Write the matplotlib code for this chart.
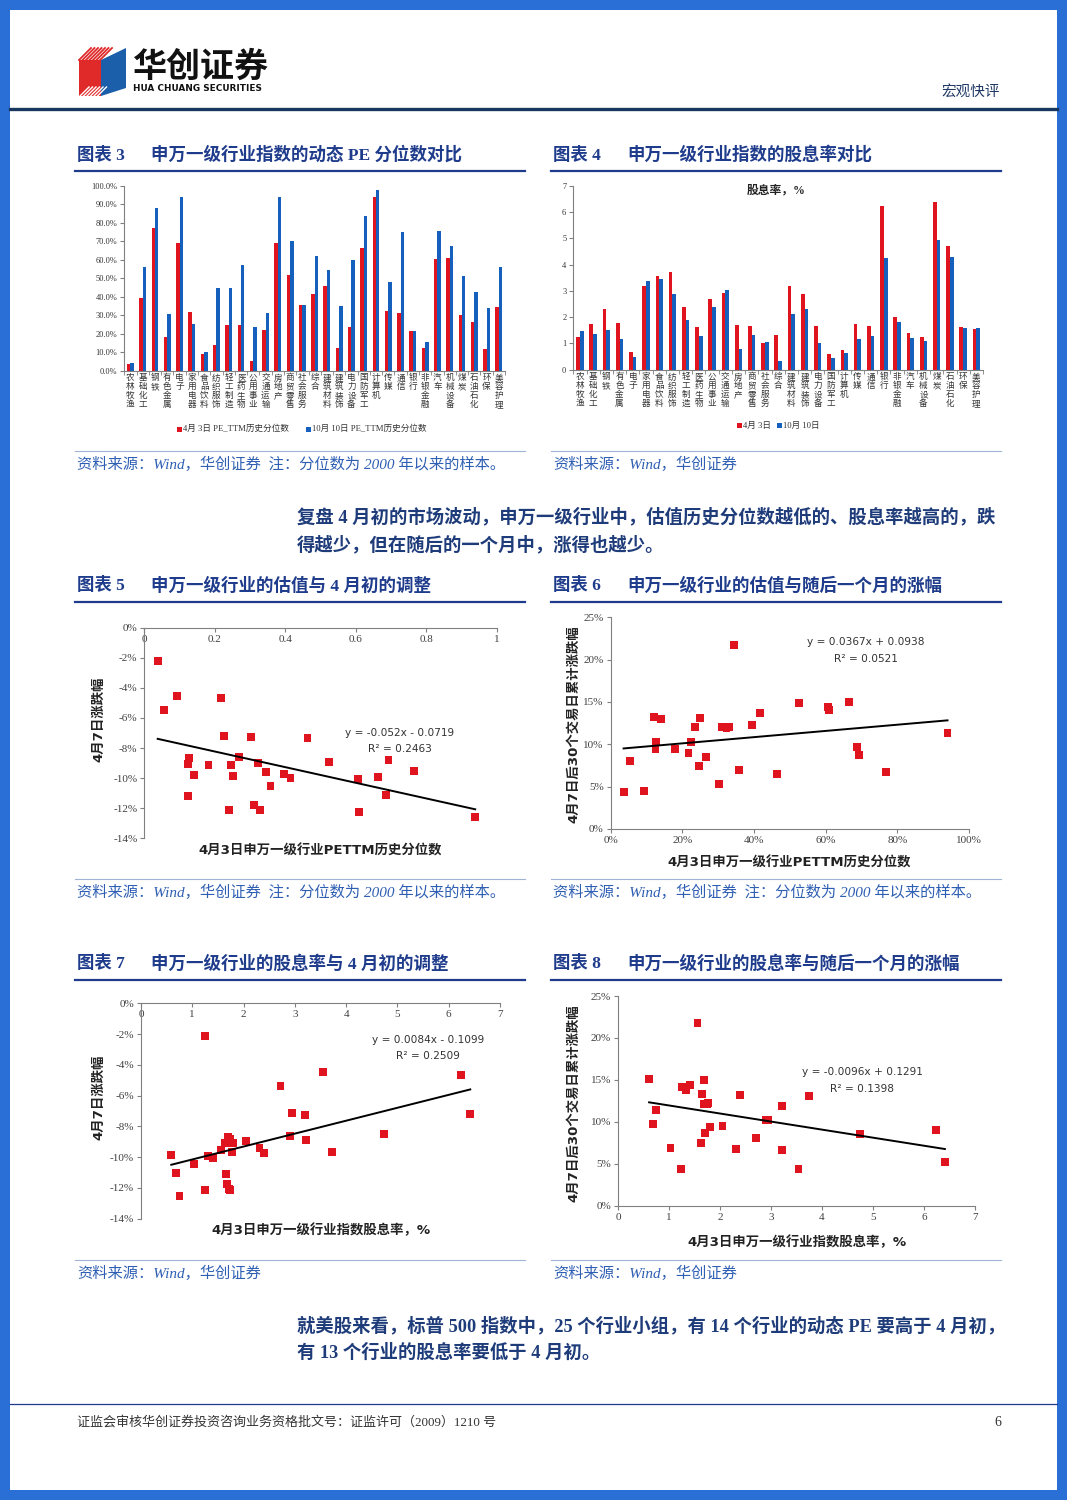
import numpy as np
import matplotlib
matplotlib.use('Agg')
import matplotlib.pyplot as plt
from matplotlib.patches import Rectangle, Polygon
from matplotlib.ticker import FuncFormatter, MultipleLocator

plt.rcParams['axes.unicode_minus'] = False
plt.rcParams['font.family'] = ['Liberation Serif', 'Noto Sans CJK SC']

W, H = 1067, 1500

# ---------------- data ----------------
industries = ['农林牧渔', '基础化工', '钢铁', '有色金属', '电子', '家用电器', '食品饮料', '纺织服饰',
              '轻工制造', '医药生物', '公用事业', '交通运输', '房地产', '商贸零售', '社会服务', '综合',
              '建筑材料', '建筑装饰', '电力设备', '国防军工', '计算机', '传媒', '通信', '银行',
              '非银金融', '汽车', '机械设备', '煤炭', '石油石化', '环保', '美容护理']
pe_apr3 = [3.5, 39.5, 77, 18, 69, 32, 9, 14, 25, 24.5, 5.5, 22, 69, 52, 35.5, 41.5,
           46, 12.5, 23.5, 66.5, 94, 32.5, 31, 21.5, 12.5, 60.5, 61, 30, 26.5, 12, 34.5]
pe_oct10 = [4, 56, 88, 30.5, 94, 25.5, 10, 45, 45, 57, 23.5, 31, 94, 70, 35.5, 62,
            54.5, 35, 60, 84, 98, 48, 75, 21.5, 15.5, 75.5, 67.5, 51.5, 42.5, 34, 56]
dy_apr3 = [1.25, 1.75, 2.3, 1.77, 0.68, 3.2, 3.55, 3.73, 2.4, 1.63, 2.7, 2.93, 1.7, 1.68, 1.03, 1.32,
           3.18, 2.88, 1.68, 0.6, 0.75, 1.75, 1.66, 6.22, 2.02, 1.4, 1.25, 6.38, 4.72, 1.63, 1.55]
dy_oct10 = [1.48, 1.35, 1.5, 1.18, 0.47, 3.37, 3.45, 2.88, 1.88, 1.3, 2.38, 3.05, 0.8, 1.32, 1.07, 0.32,
            2.1, 2.32, 1.0, 0.45, 0.63, 1.18, 1.3, 4.25, 1.8, 1.2, 1.08, 4.92, 4.27, 1.58, 1.6]

# chart 5: PE percentile (Apr 3) vs Apr 7 change (%)
s5_x = [0.038, 0.056, 0.094, 0.218, 0.225, 0.303, 0.463, 0.128, 0.125, 0.142, 0.123, 0.182, 0.246, 0.251,
        0.268, 0.240, 0.311, 0.328, 0.323, 0.346, 0.358, 0.397, 0.415, 0.525, 0.607, 0.609, 0.664, 0.687,
        0.693, 0.766, 0.939]
s5_y = [-2.2, -5.45, -4.52, -4.7, -7.2, -7.27, -7.31, -8.66, -9.04, -9.77, -11.17, -9.15, -9.15, -9.86,
        -8.6, -12.14, -11.76, -12.14, -8.99, -9.59, -10.52, -9.75, -9.99, -8.95, -10.08, -12.25, -9.92,
        -11.1, -8.8, -9.55, -12.58]
trend5 = (-0.052, -0.0719, '0.2463')

# chart 6: PE percentile vs 30-day cumulative change after Apr 7 (%)
s6_x = [0.036, 0.054, 0.092, 0.122, 0.140, 0.127, 0.125, 0.180, 0.217, 0.225, 0.236, 0.250, 0.247, 0.267,
        0.302, 0.311, 0.323, 0.329, 0.343, 0.357, 0.394, 0.417, 0.463, 0.526, 0.607, 0.609, 0.666, 0.688,
        0.693, 0.768, 0.940]
s6_y = [4.37, 8.03, 4.49, 13.27, 13.03, 10.24, 9.49, 9.45, 9.02, 10.28, 12.09, 13.15, 7.44, 8.5, 5.28,
        12.09, 11.89, 12.05, 21.77, 6.93, 12.28, 13.74, 6.54, 14.92, 14.37, 14.06, 15.0, 9.65, 8.7, 6.77, 11.38]
trend6 = (0.0367, 0.0938, '0.0521')

# chart 7: dividend yield vs Apr 7 change (%)
s7_x = [0.59, 0.68, 0.75, 1.03, 1.25, 1.25, 1.31, 1.41, 1.56, 1.64, 1.66, 1.68, 1.71, 1.74, 1.70, 1.73,
        1.77, 1.79, 2.04, 2.31, 2.40, 2.72, 2.90, 2.95, 3.20, 3.21, 3.55, 3.73, 4.74, 6.24, 6.42]
s7_y = [-9.84, -11.03, -12.55, -10.47, -2.1, -12.16, -9.9, -10.03, -9.51, -9.1, -11.07, -11.73, -12.09,
        -12.14, -8.71, -8.84, -9.67, -9.06, -8.95, -9.43, -9.75, -5.35, -8.6, -7.15, -7.26, -8.91, -4.49,
        -9.67, -8.52, -4.64, -7.2]
trend7 = (0.0084, -0.1099, '0.2509')

# chart 8: dividend yield vs 30-day cumulative change (%)
s8_x = [0.61, 0.69, 0.75, 1.03, 1.24, 1.25, 1.33, 1.41, 1.56, 1.63, 1.65, 1.69, 1.69, 1.71, 1.75, 1.76,
        1.80, 2.05, 2.31, 2.39, 2.71, 2.91, 2.94, 3.21, 3.22, 3.54, 3.74, 4.74, 6.24, 6.41]
s8_y = [15.06, 9.7, 11.41, 6.92, 4.33, 14.11, 13.75, 14.39, 21.82, 7.43, 13.28, 14.98, 12.16, 8.71,
        12.16, 12.28, 9.42, 9.5, 6.72, 13.16, 8.03, 10.21, 10.25, 6.6, 11.88, 4.41, 13.12, 8.55, 9.02, 5.25]
trend8 = (-0.0096, 0.1291, '0.1398')

RED = '#e0141e'
BLUE = '#1560bd'
NAVY = '#1f3c8c'
SRC = '#2f5fb3'
CJK = ['Liberation Serif', 'Noto Sans CJK SC']
SANSCJK = ['DejaVu Sans', 'Noto Sans CJK SC']

fig = plt.figure(figsize=(W / 100, H / 100), dpi=100)
fig.patch.set_facecolor('#2a6fd6')

pg = fig.add_axes([0, 0, 1, 1])
pg.set_xlim(0, W)
pg.set_ylim(H, 0)
pg.axis('off')
pg.add_patch(Rectangle((10, 10), W - 20, H - 20, facecolor='white', edgecolor='none'))


def add_ax(x0, y0, x1, y1):
    ax = fig.add_axes([x0 / W, 1 - y1 / H, (x1 - x0) / W, (y1 - y0) / H])
    ax.set_facecolor('none')
    return ax


# ---------------- header ----------------
pg.add_patch(Rectangle((79, 60), 22, 36, facecolor='#e02a2a', edgecolor='none'))
pg.add_patch(Polygon([(101, 60), (126, 48), (126, 88), (101, 96)], closed=True, facecolor='#1b5faa', edgecolor='none'))
for k in range(7):
    pg.plot([79 + k * 3.5, 91 + k * 3.5], [60, 48], color='#e02a2a', lw=1.3)
for k in range(6):
    pg.plot([79 + k * 3.5, 89 + k * 3.5], [97, 87], color='white', lw=1.0)
pg.text(201, 66, '华创证券', fontsize=24.5, fontweight='heavy', family=['Noto Sans CJK SC'],
        ha='center', va='center', color='#111111')
pg.text(133, 88.5, 'HUA CHUANG SECURITIES', fontsize=6.4, fontweight='bold', family=['DejaVu Sans'],
        ha='left', va='center', color='#111111')
pg.text(1000, 92, '宏观快评', fontsize=10.5, family=['Noto Sans CJK SC'], ha='right', va='center', color='#1f3864')
pg.plot([10, 1057], [109, 109], color='#17375e', lw=2.4)

# ---------------- titles / sources ----------------
def title(x, y, num, text):
    pg.text(x, y, '图表 ' + num, fontsize=12.5, fontweight='bold', family=CJK, color=NAVY, ha='left', va='center')
    pg.text(x + 74, y, text, fontsize=12.6, fontweight='bold', family=CJK, color=NAVY, ha='left', va='center')
    pg.plot([x - 2, x + 448], [y + 16, y + 16], color=NAVY, lw=1.6)


def source(x, y, text):
    pg.plot([x - 2, x + 448], [y - 13, y - 13], color='#9fb3d6', lw=0.8)
    pg.text(x, y, text, fontsize=11, style='italic', family=CJK, color=SRC, ha='left', va='center')


title(77, 155, '3', '申万一级行业指数的动态 PE 分位数对比')
title(553, 155, '4', '申万一级行业指数的股息率对比')
title(77, 586, '5', '申万一级行业的估值与 4 月初的调整')
title(553, 586, '6', '申万一级行业的估值与随后一个月的涨幅')
title(77, 964, '7', '申万一级行业的股息率与 4 月初的调整')
title(553, 964, '8', '申万一级行业的股息率与随后一个月的涨幅')

note = '资料来源：Wind，华创证券  注：分位数为 2000 年以来的样本。'
source(77, 464, note)
source(553, 464, '资料来源：Wind，华创证券')
source(77, 892, note)
source(553, 892, note)
source(77, 1273, '资料来源：Wind，华创证券')
source(553, 1273, '资料来源：Wind，华创证券')

para_kw = dict(fontsize=13.2, fontweight='bold', family=CJK, color='#1f3c7a', ha='left', va='center')
pg.text(297, 517, '复盘 4 月初的市场波动，申万一级行业中，估值历史分位数越低的、股息率越高的，跌', **para_kw)
pg.text(297, 545, '得越少，但在随后的一个月中，涨得也越少。', **para_kw)
pg.text(297, 1326, '就美股来看，标普 500 指数中，25 个行业小组，有 14 个行业的动态 PE 要高于 4 月初，', **para_kw)
pg.text(297, 1353, '有 13 个行业的股息率要低于 4 月初。', **para_kw)

pg.plot([10, 1057], [1404, 1404], color='#1f3c8c', lw=0.9)
pg.text(77, 1422, '证监会审核华创证券投资咨询业务资格批文号：证监许可（2009）1210 号', fontsize=9.4,
        family=CJK, color='#333333', ha='left', va='center')
pg.text(1001, 1422, '6', fontsize=10, family=CJK, color='#333333', ha='right', va='center')

# ---------------- bar charts ----------------
stacked = ['\n'.join(list(s)) for s in industries]
xs = np.arange(len(industries))
bw = 0.28


def bar_axes(ax, a, b, ymax):
    ax.bar(xs - bw / 2, a, width=bw, color=RED, edgecolor='none')
    ax.bar(xs + bw / 2, b, width=bw, color=BLUE, edgecolor='none')
    ax.set_xlim(-0.5, len(industries) - 0.5)
    ax.set_ylim(0, ymax)
    for s in ['top', 'right']:
        ax.spines[s].set_visible(False)
    for s in ['left', 'bottom']:
        ax.spines[s].set_color('#808080')
        ax.spines[s].set_linewidth(0.8)
    ax.set_xticks(xs)
    ax.set_xticklabels(stacked, fontsize=6.2, family=['Noto Sans CJK SC'], linespacing=0.98, color='#333333')
    ax.set_xticks(np.arange(-0.5, len(industries), 1), minor=True)
    ax.tick_params(axis='x', which='major', length=0, pad=2)
    ax.tick_params(axis='x', which='minor', length=3, color='#808080')
    ax.tick_params(axis='y', length=3, color='#808080', labelsize=6, labelcolor='#333333', pad=2)


ax3 = add_ax(124.3, 186, 505, 370.7)
bar_axes(ax3, [v / 100 for v in pe_apr3], [v / 100 for v in pe_oct10], 1.0)
ax3.yaxis.set_major_locator(MultipleLocator(0.1))
ax3.yaxis.set_major_formatter(FuncFormatter(lambda v, p: f'{v * 100:.1f}%'))

ax4 = add_ax(573.3, 185.7, 983, 369.7)
bar_axes(ax4, dy_apr3, dy_oct10, 7)
ax4.yaxis.set_major_locator(MultipleLocator(1))
ax4.yaxis.set_major_formatter(FuncFormatter(lambda v, p: f'{v:.0f}'))
pg.text(776, 190.5, '股息率，%', fontsize=8.5, fontweight='bold', family=CJK, color='#222222', ha='center', va='center')


def legend_item(x, y, color, text):
    pg.add_patch(Rectangle((x, y - 2.5), 5, 5, facecolor=color, edgecolor='none'))
    pg.text(x + 6, y, text, fontsize=6.2, family=CJK, color='#333333', ha='left', va='center')


legend_item(177, 429, RED, '4月 3日 PE_TTM历史分位数')
legend_item(306, 429, BLUE, '10月 10日 PE_TTM历史分位数')
legend_item(737, 425.5, RED, '4月 3日')
legend_item(777, 425.5, BLUE, '10月 10日')

# ---------------- scatter charts ----------------
def scatter_axes(ax, x, y, trend, xlim, ylim, top_axis):
    yv = np.array(y) / 100.0
    ax.scatter(x, yv, s=32, marker='s', color=RED, edgecolors='none', zorder=3)
    m, b, r2 = trend
    tx = np.array([min(x), max(x)])
    ax.plot(tx, m * tx + b, color='black', lw=1.4, zorder=4)
    ax.set_xlim(*xlim)
    ax.set_ylim(*ylim)
    for s in ['top', 'right']:
        ax.spines[s].set_visible(False)
    for s in ['left', 'bottom']:
        ax.spines[s].set_color('#808080')
        ax.spines[s].set_linewidth(0.8)
    if top_axis:
        ax.spines['bottom'].set_position(('data', 0))
    ax.tick_params(length=3, color='#808080', labelsize=8, labelcolor='#404040', pad=2)


def eq_text(cx, y1, y2, trend):
    m, b, r2 = trend
    sign = '+' if b >= 0 else '-'
    s1 = f'y = {m:g}x {sign} {abs(b):g}'
    pg.text(cx, y1, s1, fontsize=7.6, family=['DejaVu Sans'], color='#333333', ha='center', va='center')
    pg.text(cx, y2, f'R² = {r2}', fontsize=7.6, family=['DejaVu Sans'], color='#333333', ha='center', va='center')


pct0 = FuncFormatter(lambda v, p: f'{v * 100:.0f}%')
lbl_kw = dict(fontsize=9.6, fontweight='bold', family=SANSCJK, color='#222222', ha='center', va='center')

ax5 = add_ax(144.3, 627.7, 496.7, 838.3)
scatter_axes(ax5, s5_x, s5_y, trend5, (0, 1), (-0.14, 0), True)
ax5.xaxis.set_major_locator(MultipleLocator(0.2))
ax5.xaxis.set_major_formatter(FuncFormatter(lambda v, p: f'{v:g}'))
ax5.yaxis.set_major_locator(MultipleLocator(0.02))
ax5.yaxis.set_major_formatter(pct0)
eq_text(400, 733, 749, trend5)
pg.text(320, 851, '4月3日申万一级行业PETTM历史分位数', **lbl_kw)
pg.text(99, 719, '4月7日涨跌幅', rotation=90, **lbl_kw)

ax6 = add_ax(610.7, 617.3, 969, 829)
scatter_axes(ax6, s6_x, s6_y, trend6, (0, 1), (0, 0.25), False)
ax6.xaxis.set_major_locator(MultipleLocator(0.2))
ax6.xaxis.set_major_formatter(pct0)
ax6.yaxis.set_major_locator(MultipleLocator(0.05))
ax6.yaxis.set_major_formatter(pct0)
eq_text(866, 642, 659, trend6)
pg.text(789, 863, '4月3日申万一级行业PETTM历史分位数', **lbl_kw)
pg.text(574, 724, '4月7日后30个交易日累计涨跌幅', rotation=90, **lbl_kw)

ax7 = add_ax(141, 1003.3, 500, 1218.7)
scatter_axes(ax7, s7_x, s7_y, trend7, (0, 7), (-0.14, 0), True)
ax7.xaxis.set_major_locator(MultipleLocator(1))
ax7.xaxis.set_major_formatter(FuncFormatter(lambda v, p: f'{v:.0f}'))
ax7.yaxis.set_major_locator(MultipleLocator(0.02))
ax7.yaxis.set_major_formatter(pct0)
eq_text(428, 1040, 1056, trend7)
pg.text(321, 1230, '4月3日申万一级行业指数股息率，%', **lbl_kw)
pg.text(99, 1097, '4月7日涨跌幅', rotation=90, **lbl_kw)

ax8 = add_ax(618, 996, 975, 1205.7)
scatter_axes(ax8, s8_x, s8_y, trend8, (0, 7), (0, 0.25), False)
ax8.xaxis.set_major_locator(MultipleLocator(1))
ax8.xaxis.set_major_formatter(FuncFormatter(lambda v, p: f'{v:.0f}'))
ax8.yaxis.set_major_locator(MultipleLocator(0.05))
ax8.yaxis.set_major_formatter(pct0)
eq_text(862, 1072, 1089, trend8)
pg.text(797, 1242, '4月3日申万一级行业指数股息率，%', **lbl_kw)
pg.text(574, 1103, '4月7日后30个交易日累计涨跌幅', rotation=90, **lbl_kw)

for ax in [ax3, ax4, ax5, ax6, ax7, ax8]:
    labs = list(ax.get_yticklabels())
    if ax not in (ax3, ax4):
        labs += list(ax.get_xticklabels())
    for lab in labs:
        lab.set_family(['Liberation Serif'])

fig.savefig('out.png', dpi=100, facecolor=fig.get_facecolor())
